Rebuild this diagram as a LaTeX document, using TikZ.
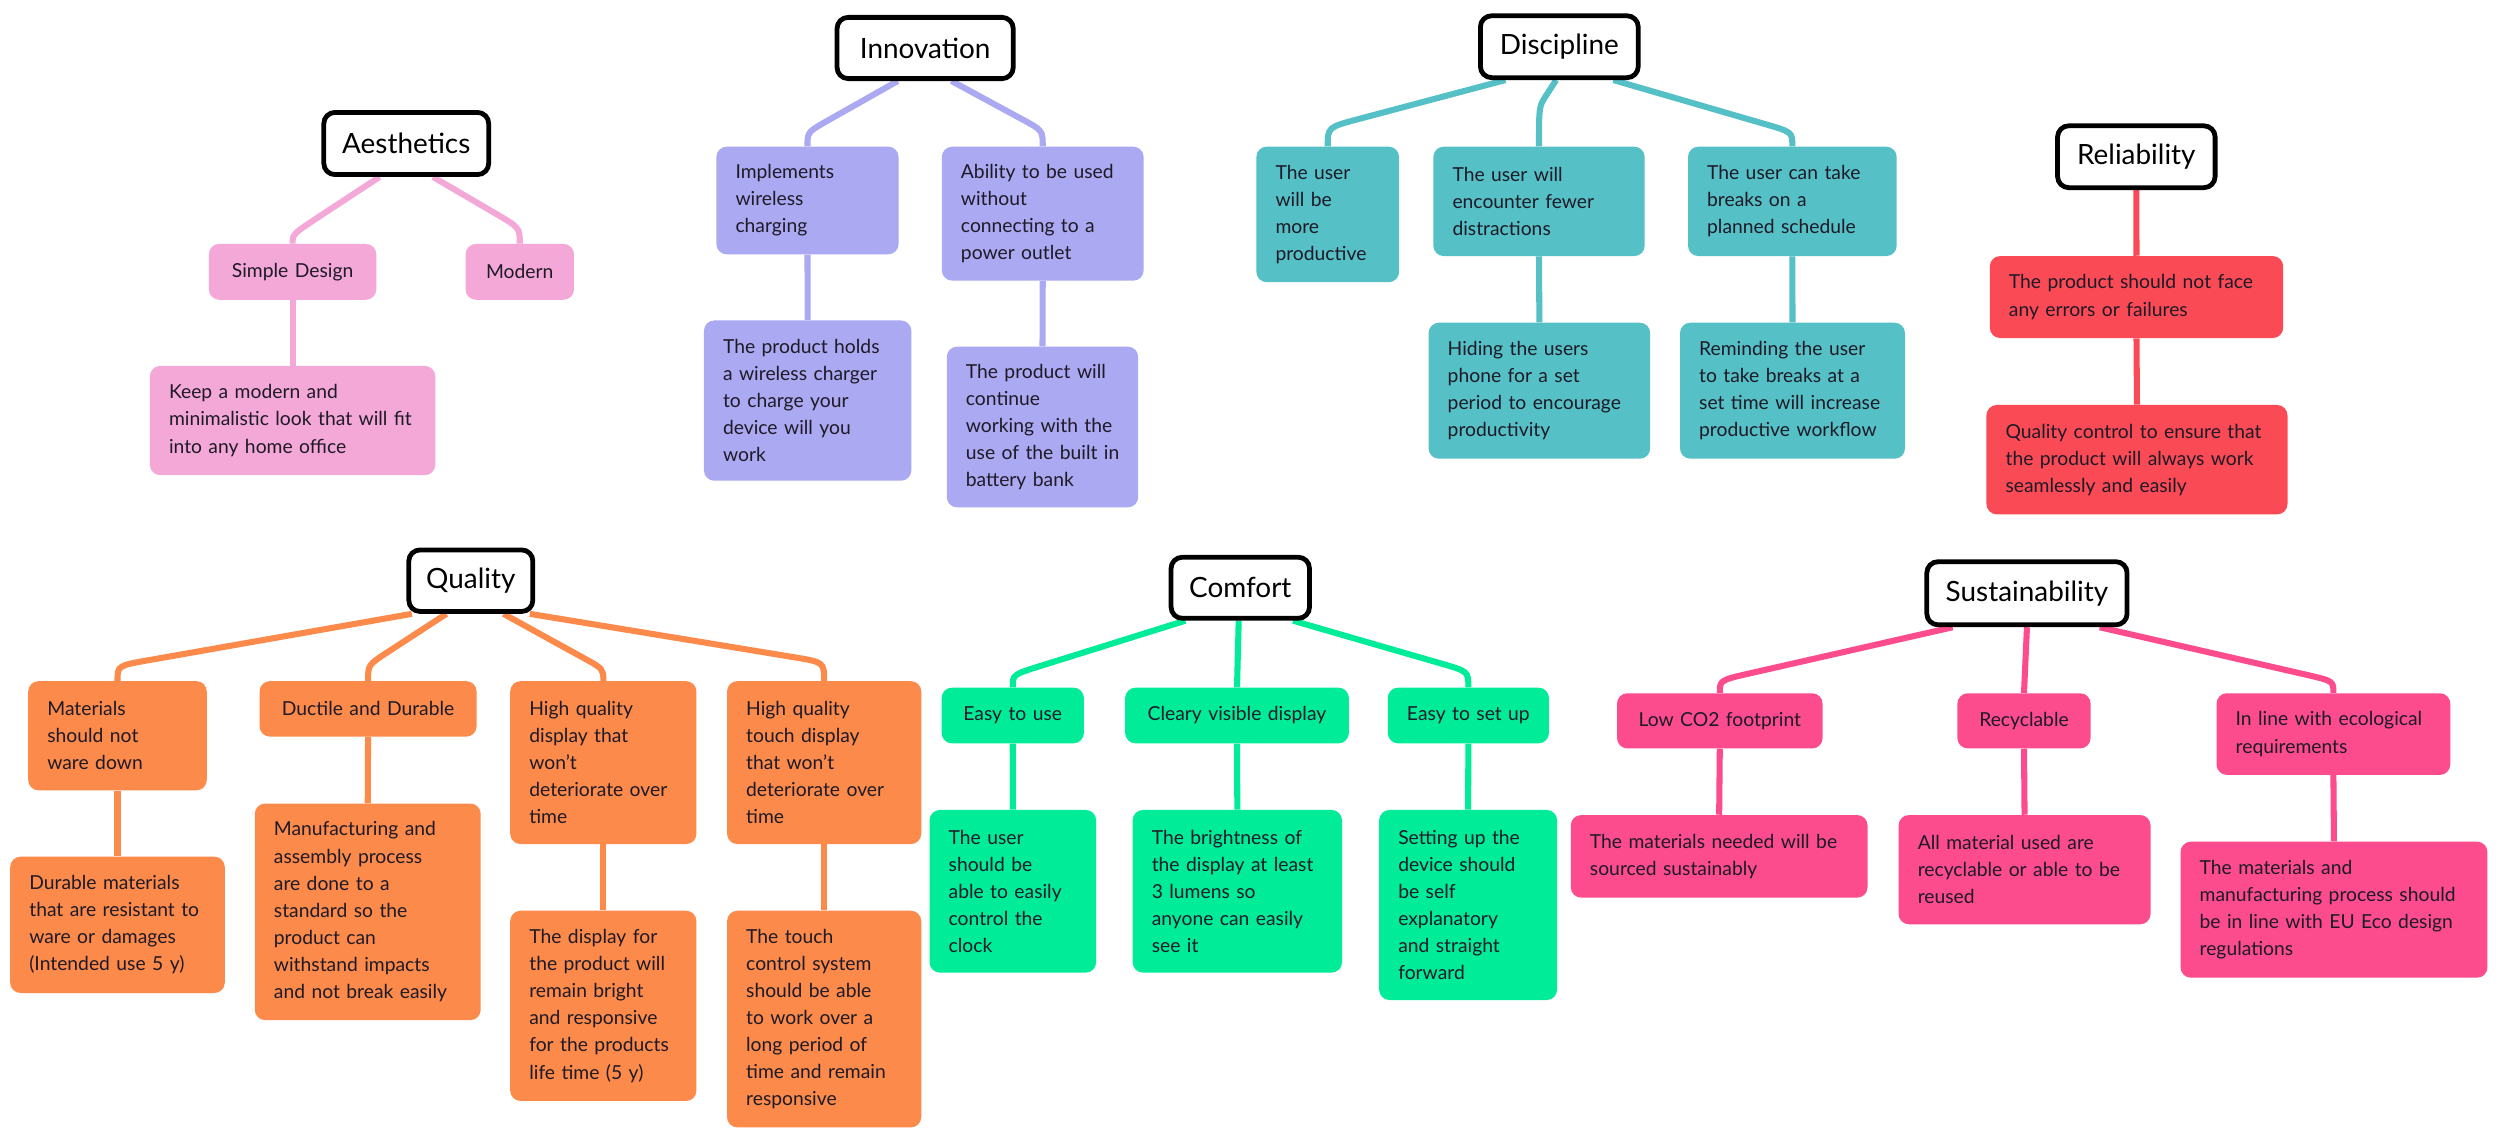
\documentclass[tikz,border=0pt]{standalone}
\usepackage{fontspec}
\setmainfont{Lato}
\usetikzlibrary{calc,backgrounds}
\definecolor{ink}{HTML}{1E1A27}
\definecolor{pk}{HTML}{F3A8D8}
\definecolor{lav}{HTML}{AAA9F1}
\definecolor{tea}{HTML}{55C0C6}
\definecolor{rd}{HTML}{FA4A55}
\definecolor{ora}{HTML}{FC8A4A}
\definecolor{grn}{HTML}{00EC98}
\definecolor{mag}{HTML}{FC4C8E}
\tikzset{
  leaf/.style={rounded corners=6.5pt, inner xsep=12pt, inner ysep=0pt, align=left, text=ink,
    font=\fontsize{12.1}{17}\selectfont},
  rootbox/.style={draw=black, line width=3pt, fill=white, rounded corners=7pt, inner sep=0pt,
    font=\fontsize{17.5}{20}\selectfont, text=black},
  conn/.style={line width=3.8pt}
}
% leaf: [opts]{name}{colour}{cx,cy}{w}{h}{text width}{text}
\newcommand\leaf[8][]{\node[leaf,fill=#3,minimum width=#5pt,minimum height=#6pt,text width=#7pt,#1] (#2) at (#4) {\rightskip=0pt plus 1fil minus 80pt\relax #8};}
% branch: {colour}{root}{xshift}{child}{bend height}{bend length}
\newcommand\branch[6]{\draw[conn,#1] ([xshift=#3pt]#2.south) -- ($([yshift=#5pt]#4.north)!#6pt!([xshift=#3pt]#2.south)$) .. controls ([yshift=#5pt]#4.north) .. (#4.north);}
\newcommand\stem[3]{\draw[conn,#1] (#2.south) -- (#3.north);}
\begin{document}
\begin{tikzpicture}[x=1pt,y=-1pt]
\useasboundingbox (0,0) rectangle (1568,715.6);

% ---------- roots
\node[rootbox,minimum width=103.4pt,minimum height=39pt] (aes) at (254.8,90) {Aesthetics};
\node[rootbox,minimum width=110.5pt,minimum height=38.4pt] (inn) at (580.25,30.1) {Innovation};
\node[rootbox,minimum width=99pt,minimum height=38.8pt] (dis) at (978,29.3) {Discipline};
\node[rootbox,minimum width=98.8pt,minimum height=38.8pt] (rel) at (1339.9,98.3) {Reliability};
\node[rootbox,minimum width=77.8pt,minimum height=38.6pt] (qua) at (295.3,364.2) {Quality};
\node[rootbox,minimum width=86.8pt,minimum height=38.3pt] (com) at (777.9,368.65) {Comfort};
\node[rootbox,minimum width=125.6pt,minimum height=39.6pt] (sus) at (1271.3,372.1) {Sustainability};

% ---------- Aesthetics
\leaf[align=center]{sd}{pk}{183.5,170.5}{105}{35}{81}{Simple Design}
\leaf[align=center]{mo}{pk}{326,170.5}{68}{35}{44}{Modern}
\leaf{ke}{pk}{183.5,263.75}{179}{68.5}{155}{Keep a modern and\\minimalistic look that will fit\\into any home office}

% ---------- Innovation
\leaf{im}{lav}{506.45,125.75}{114.3}{67.5}{90.3}{Implements\\wireless\\charging}
\leaf{ab}{lav}{654,134}{126.6}{84}{102.6}{Ability to be used\\without\\connecting to a\\power outlet}
\leaf{ph}{lav}{506.55,251.25}{130.1}{100.5}{106.1}{The product holds\\a wireless charger\\to charge your\\device will you\\work}
\leaf{pw}{lav}{653.85,267.8}{120.1}{100.8}{96.1}{The product will\\continue\\working with the\\use of the built in\\battery bank}

% ---------- Discipline
\leaf{d1}{tea}{832.75,134.5}{89.5}{85}{65.5}{The user\\will be\\more\\productive}
\leaf{d2}{tea}{965.25,126.3}{132.5}{68.6}{108.5}{The user will\\encounter fewer\\distractions}
\leaf{d3}{tea}{1124.15,126.3}{130.9}{68.6}{106.9}{The user can take\\breaks on a\\planned schedule}
\leaf{d4}{tea}{965.5,245.05}{139}{85.3}{115}{Hiding the users\\phone for a set\\period to encourage\\productivity}
\leaf{d5}{tea}{1124.25,245.05}{141.1}{85.3}{117.1}{Reminding the user\\to take breaks at a\\set time will increase\\productive workflow}

% ---------- Reliability
\leaf{r1}{rd}{1340,186.3}{184}{51.4}{160}{The product should not face\\any errors or failures}
\leaf{r2}{rd}{1340.3,288.3}{188.8}{68.6}{164.8}{Quality control to ensure that\\the product will always work\\seamlessly and easily}

% ---------- Quality
\leaf{q1}{ora}{73.7,461.45}{112}{68.5}{88}{Materials\\should not\\ware down}
\leaf[align=center]{q2}{ora}{230.85,444.6}{136.1}{34.8}{112.1}{Ductile and Durable}
\leaf{q3}{ora}{378.4,478.3}{116.8}{102.2}{92.8}{High quality\\display that\\won’t\\deteriorate over\\time}
\leaf{q4}{ora}{516.9,478.3}{121.8}{102.2}{97.8}{High quality\\touch display\\that won’t\\deteriorate over\\time}
\leaf{q5}{ora}{73.7,580.05}{134.6}{85.5}{110.6}{Durable materials\\that are resistant to\\ware or damages\\(Intended use 5 y)}
\leaf{q6}{ora}{230.65,571.9}{141.7}{135.8}{117.7}{Manufacturing and\\assembly process\\are done to a\\standard so the\\product can\\withstand impacts\\and not break easily}
\leaf{q7}{ora}{378.4,630.85}{116.8}{119.3}{92.8}{The display for\\the product will\\remain bright\\and responsive\\for the products\\life time (5 y)}
\leaf{q8}{ora}{516.9,639.15}{121.8}{135.9}{97.8}{The touch\\control system\\should be able\\to work over a\\long period of\\time and remain\\responsive}

% ---------- Comfort
\leaf[align=center]{c1}{grn}{635.2,448.75}{89.2}{34.9}{65.2}{Easy to use}
\leaf[align=center]{c2}{grn}{775.85,448.75}{140.3}{34.9}{116.3}{Cleary visible display}
\leaf[align=center]{c3}{grn}{920.95,448.75}{101.1}{34.9}{77.1}{Easy to set up}
\leaf{c4}{grn}{635.25,559}{104.5}{102}{80.5}{The user\\should be\\able to easily\\control the\\clock}
\leaf{c5}{grn}{776.05,559}{131.3}{102}{107.3}{The brightness of\\the display at least\\3 lumens so\\anyone can easily\\see it}
\leaf{c6}{grn}{920.8,567.6}{111.6}{119.2}{87.6}{Setting up the\\device should\\be self\\explanatory\\and straight\\forward}

% ---------- Sustainability
\leaf[align=center]{s1}{mag}{1078.65,452.1}{128.9}{34.6}{104.9}{Low CO2 footprint}
\leaf[align=center]{s2}{mag}{1269.45,452.1}{83.5}{34.6}{59.5}{Recyclable}
\leaf{s3}{mag}{1463.5,460.4}{146.6}{51.2}{122.6}{In line with ecological\\requirements}
\leaf{s4}{mag}{1078.25,537.1}{186.1}{51.8}{162.1}{The materials needed will be\\sourced sustainably}
\leaf{s5}{mag}{1269.8,545.45}{158}{68.5}{134}{All material used are\\recyclable or able to be\\reused}
\leaf{s6}{mag}{1463.85,570.55}{192.5}{85.3}{168.5}{The materials and\\manufacturing process should\\be in line with EU Eco design\\regulations}

% ---------- connectors
\begin{pgfonlayer}{background}
\fill[white] (0,0) rectangle (1568,715.6);
\branch{pk}{aes}{-16.8}{sd}{6}{22}
\branch{pk}{aes}{16.8}{mo}{10}{18}
\stem{pk}{sd}{ke}

\branch{lav}{inn}{-17.2}{im}{9}{15}
\branch{lav}{inn}{16.5}{ab}{10}{15}
\stem{lav}{im}{ph}
\stem{lav}{ab}{pw}

\branch{tea}{dis}{-33.8}{d1}{12}{20}
\branch{tea}{dis}{-2}{d2}{25}{8}
\branch{tea}{dis}{33.9}{d3}{9}{18}
\stem{tea}{d2}{d4}
\stem{tea}{d3}{d5}

\stem{rd}{rel}{r1}
\stem{rd}{r1}{r2}

\branch{ora}{qua}{-37}{q1}{9.5}{20}
\branch{ora}{qua}{-15.3}{q2}{10}{15}
\branch{ora}{qua}{20.5}{q3}{7.5}{14}
\branch{ora}{qua}{37}{q4}{11.7}{20}
\stem{ora}{q1}{q5}
\stem{ora}{q2}{q6}
\stem{ora}{q3}{q7}
\stem{ora}{q4}{q8}

\branch{grn}{com}{-34.5}{c1}{8}{18}
\draw[conn,grn] ([xshift=-1pt]com.south) -- (c2.north);
\branch{grn}{com}{33.1}{c3}{10}{18}
\stem{grn}{c1}{c4}
\stem{grn}{c2}{c5}
\stem{grn}{c3}{c6}

\branch{mag}{sus}{-46.6}{s1}{8}{20}
\draw[conn,mag] (sus.south) -- (s2.north);
\branch{mag}{sus}{45.6}{s3}{7.5}{18}
\stem{mag}{s1}{s4}
\stem{mag}{s2}{s5}
\stem{mag}{s3}{s6}
\end{pgfonlayer}
\end{tikzpicture}
\end{document}
